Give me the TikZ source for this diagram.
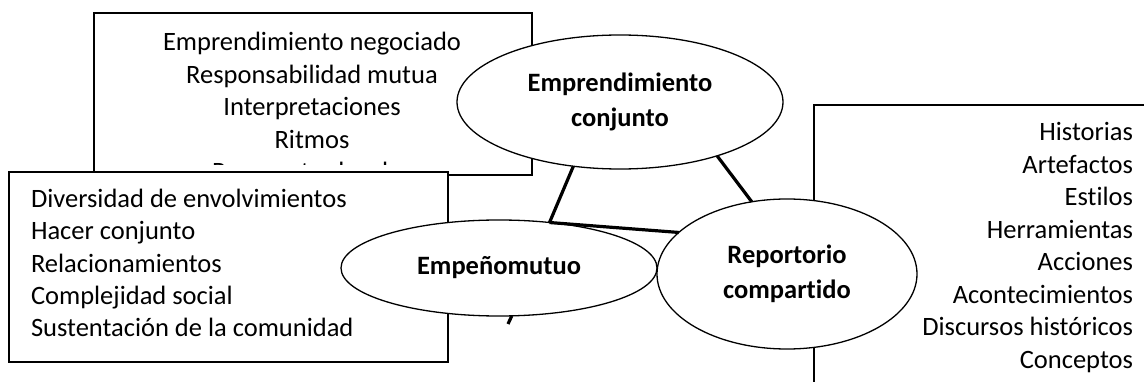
\documentclass[tikz,border=0pt]{standalone}
\usepackage{fontspec}
\setmainfont{Carlito}[Ligatures={NoCommon}]
\usetikzlibrary{shapes.geometric}
\begin{document}
\begin{tikzpicture}[x=1pt,y=-1pt,
  box/.style={draw,line width=1.4pt,fill=white,rectangle,inner sep=0,outer sep=0},
  oval/.style={ellipse,draw,line width=1.3pt,fill=white,inner sep=0,outer sep=0,
    font=\fontsize{26.5}{34.5}\selectfont\bfseries,align=center},
  link/.style={line width=3.2pt},
  txt/.style={font=\fontsize{26.5}{32.5}\selectfont,inner sep=0,outer sep=0}]
\useasboundingbox (0,0) rectangle (1144,382);
\clip (0,0) rectangle (1144,382);
% top box
\node[box,minimum width=438pt,minimum height=162pt] (topbox) at (313,94) {};
\begin{scope}
\clip (94,13) rectangle (532,165);
\node[txt,align=center,anchor=base] (toptext) at (312,181)
  {Emprendimiento negociado\\Responsabilidad mutua\\Interpretaciones\\Ritmos\\Respuestas locales};
\end{scope}
% lower-left box
\node[box,minimum width=439pt,minimum height=190pt] (leftbox) at (228.5,267) {};
\node[txt,align=left,anchor=base west] (lefttext) at (31,337)
  {Diversidad de envolvimientos\\Hacer conjunto\\Relacionamientos\\Complejidad social\\Sustentación de la comunidad};
% right box
\node[box,minimum width=360pt,minimum height=320pt,anchor=north west] (rightbox) at (814,105) {};
\node[txt,align=right,anchor=base east] (righttext) at (1133,368)
  {Historias\\Artefactos\\Estilos\\Herramientas\\Acciones\\Acontecimientos\\Discursos históricos\\Conceptos};
% ellipses
\node[oval,minimum width=326pt,minimum height=134pt] (ec) at (620,102) {Emprendimiento\\conjunto};
\node[oval,minimum width=316pt,minimum height=96pt] (em) at (499,268) {Empeñomutuo};
\node[oval,minimum width=260pt,minimum height=150pt] (rc) at (787,274) {Reportorio\\compartido};
% connectors
\coordinate (stub) at (508,324);
\draw[link] (ec.234) -- (em.42);
\draw[link] (ec.-29) -- (rc.116);
\draw[link] (em.42) -- (rc.159.4);
\draw[link] (em.-75) -- (stub);
\end{tikzpicture}
\end{document}
